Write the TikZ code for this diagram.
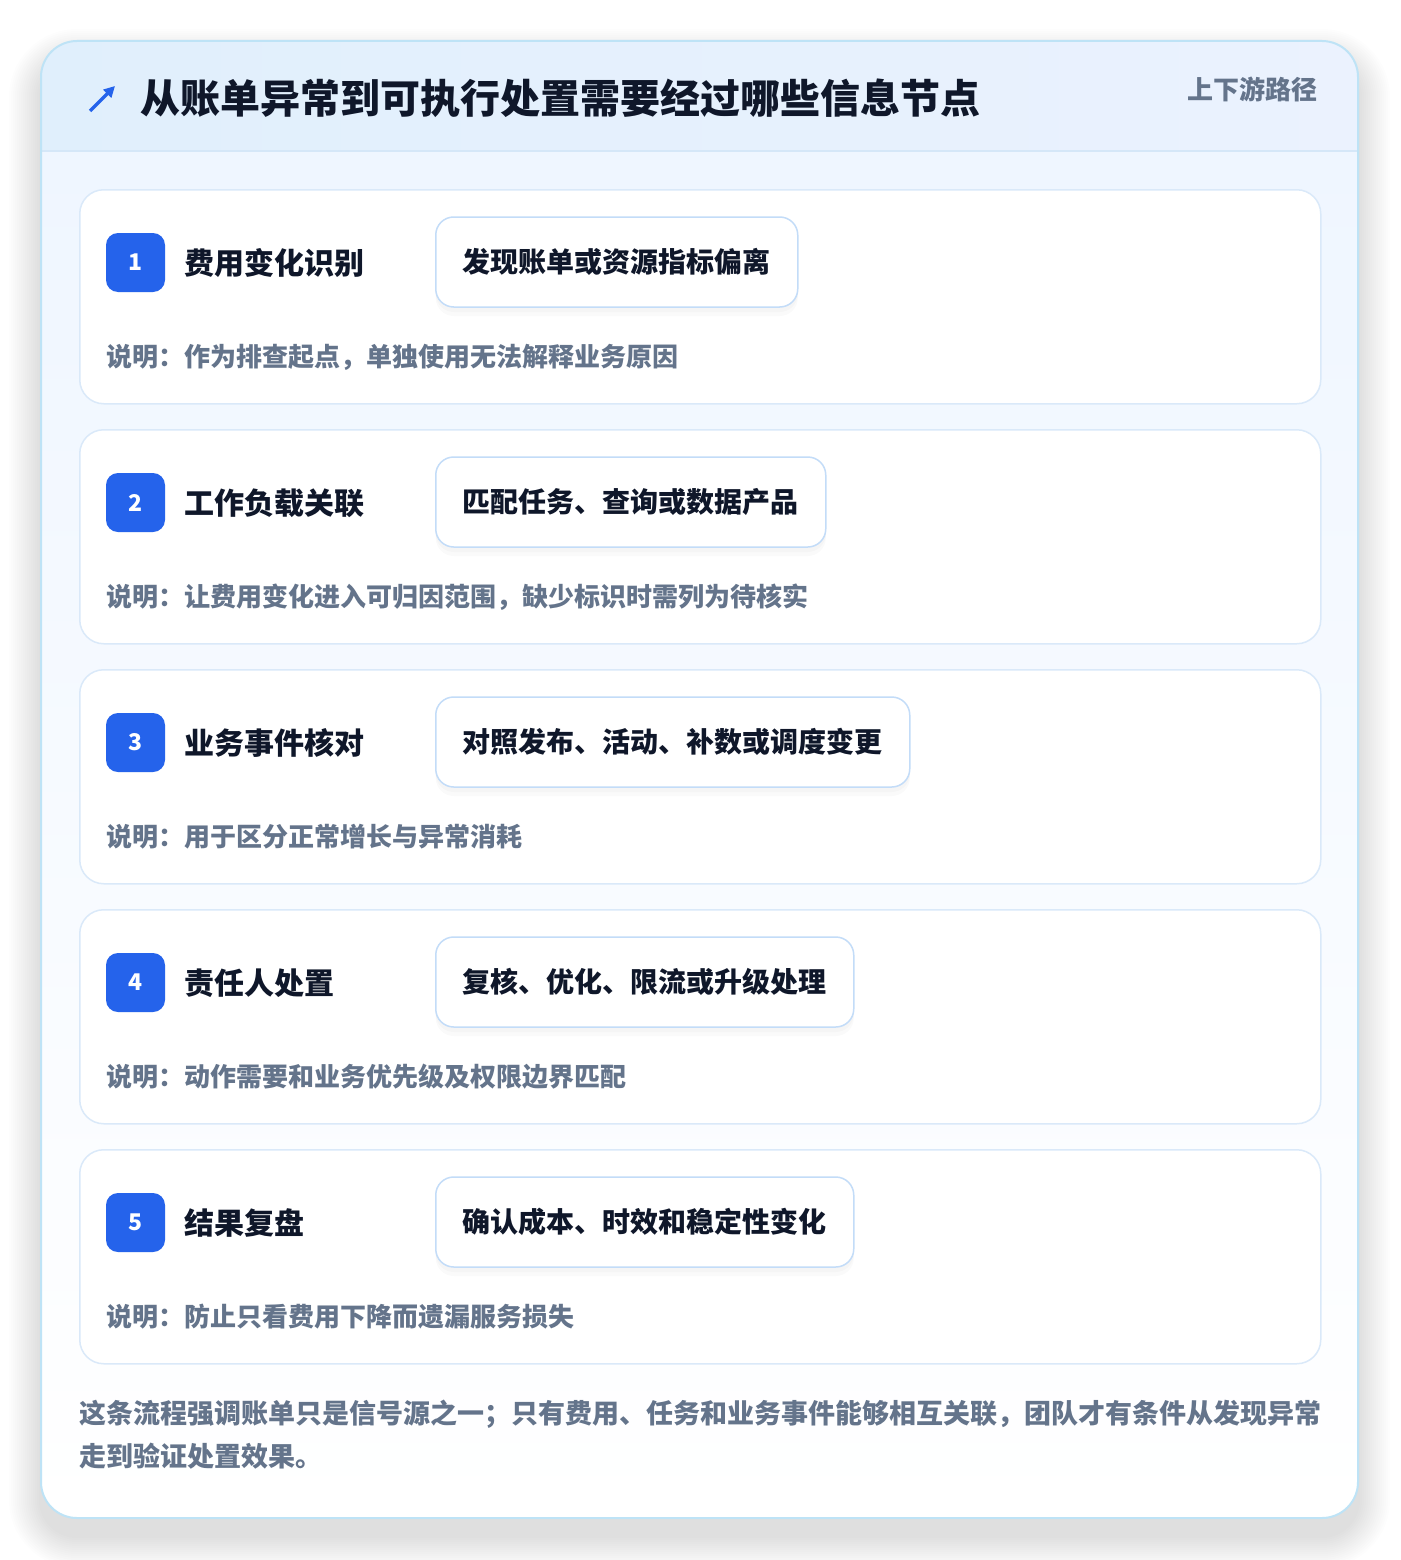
\documentclass[tikz,border=0pt]{standalone}
\usepackage{fontspec}
\setmainfont{Noto Sans CJK SC}
\usetikzlibrary{arrows.meta}

\definecolor{ink}{HTML}{0F172A}
\definecolor{mute}{HTML}{64748B}
\definecolor{accent}{HTML}{2563EB}
\definecolor{panelline}{HTML}{BEE3F6}
\definecolor{headl}{HTML}{E0EFFC}
\definecolor{headr}{HTML}{EBF2FE}
\definecolor{headline}{HTML}{D5E7F8}
\definecolor{bodytop}{HTML}{EFF6FF}
\definecolor{cardline}{HTML}{DAE9F9}
\definecolor{pillline}{HTML}{C3DCF8}

\tikzset{
  txt/.style={inner sep=0, anchor=west},
  card/.style={draw=cardline, line width=1.5, fill=white, rounded corners=24,
    minimum width=1241, minimum height=214, anchor=north west, inner sep=0},
  badge/.style={fill=accent, text=white, rounded corners=12, minimum size=59,
    inner sep=0, font=\fontsize{23}{26}\selectfont\bfseries},
  stepname/.style={txt, text=ink, font=\fontsize{30}{36}\selectfont\bfseries},
  actbox/.style={draw=pillline, line width=1.5, fill=white, rounded corners=18,
    inner xsep=27, inner ysep=0, minimum height=90, anchor=west, text=ink,
    font=\fontsize{28}{34}\selectfont\bfseries,
    preaction={fill=black, fill opacity=0.018, draw opacity=0, transform canvas={yshift=-9pt}},
    preaction={fill=black, fill opacity=0.018, draw opacity=0, transform canvas={yshift=-5pt}}},
  notetext/.style={txt, text=mute, font=\fontsize{26}{32}\selectfont\bfseries},
}

\begin{document}
\begin{tikzpicture}[x=1pt, y=-1pt]
\useasboundingbox[fill=white] (0,0) rectangle (1400,1560);

% soft shadow of the panel
\foreach \k in {1,...,16}
  \fill[black, opacity=0.006, rounded corners=36+2*\k]
    (41-2*\k,61-2*\k) rectangle (1358+2*\k,1536+2*\k);

% outer panel
\begin{scope}
  \clip[rounded corners=36] (41,41) rectangle (1358,1518);
  \fill[white] (41,41) rectangle (1358,1518);
  \shade[top color=bodytop, bottom color=white] (41,151) rectangle (1358,1518);
  \shade[left color=headl, right color=headr] (41,41) rectangle (1358,151);
  \draw[headline, line width=1.5] (41,151) -- (1358,151);
\end{scope}
\draw[panelline, line width=2, rounded corners=36] (41,41) rectangle (1358,1518);

% header
\draw[accent, line width=3.2, -{Triangle[length=11, width=11]}] (90,111) -- (115,86);
\node[txt, text=ink, font=\fontsize{40}{48}\selectfont\bfseries] (title) at (140,98)
  {从账单异常到可执行处置需要经过哪些信息节点};
\node[inner sep=0, anchor=east, text=mute, font=\fontsize{26}{32}\selectfont\bfseries] (tag) at (1318,89)
  {上下游路径};

% steps
\foreach \i/\head/\act/\note in {
  1/费用变化识别/发现账单或资源指标偏离/作为排查起点，单独使用无法解释业务原因,
  2/工作负载关联/匹配任务、查询或数据产品/让费用变化进入可归因范围，缺少标识时需列为待核实,
  3/业务事件核对/对照发布、活动、补数或调度变更/用于区分正常增长与异常消耗,
  4/责任人处置/复核、优化、限流或升级处理/动作需要和业务优先级及权限边界匹配,
  5/结果复盘/确认成本、时效和稳定性变化/防止只看费用下降而遗漏服务损失}
{
  \pgfmathsetmacro{\ytop}{189+240*(\i-1)}
  \node[card] (card\i) at (79,\ytop) {};
  \node[badge] (num\i) at (135.5,\ytop+73.5) {\i};
  \node[stepname] (head\i) at (184,\ytop+74) {\head};
  \node[actbox] (act\i) at (435,\ytop+73) {\act};
  \node[notetext] (note\i) at (106,\ytop+168) {说明：\note};
}

% closing remark
\node[txt, text=mute, font=\fontsize{27}{32}\selectfont\bfseries] (foot) at (79,1414)
  {这条流程强调账单只是信号源之一；只有费用、任务和业务事件能够相互关联，团队才有条件从发现异常};
\node[txt, text=mute, font=\fontsize{27}{32}\selectfont\bfseries] (foot2) at (79,1456)
  {走到验证处置效果。};
\end{tikzpicture}
\end{document}
